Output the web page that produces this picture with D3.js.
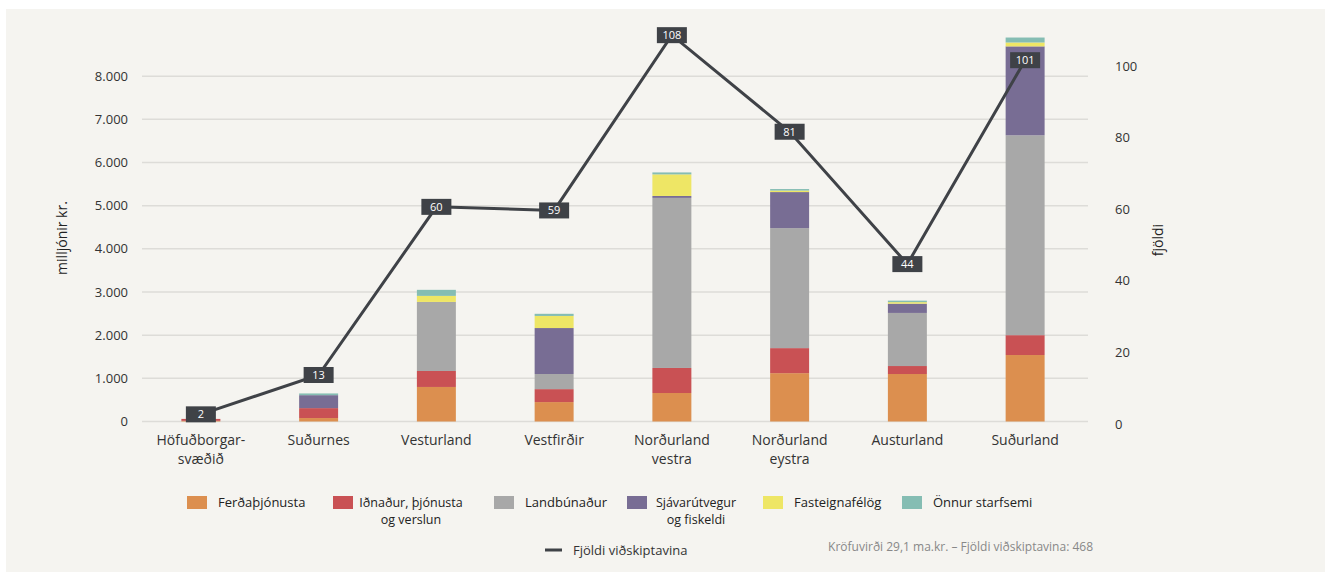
<!DOCTYPE html>
<html>
<head>
<meta charset="utf-8">
<script src="https://cdn.jsdelivr.net/npm/d3@7"></script>
<style>
  body { margin: 0; background: #ffffff; }
  text { font-family: "Open Sans", "DejaVu Sans", sans-serif; }
</style>
</head>
<body>
<div id="chart"></div>
<script>
// regions on x axis
const regions = ["Höfuðborgar-|svæðið", "Suðurnes", "Vesturland", "Vestfirðir", "Norðurland|vestra", "Norðurland|eystra", "Austurland", "Suðurland"];

// sector values in millions kr.
const ferdathjonusta = [15, 80, 800, 450, 660, 1120, 1100, 1540];
const idnadur = [45, 230, 370, 300, 580, 580, 185, 460];
const landbunadur = [0, 0, 1600, 350, 3940, 2780, 1230, 4630];
const sjavarutvegur = [0, 300, 0, 1065, 45, 835, 215, 2060];
const fasteignafelog = [0, 0, 140, 280, 500, 35, 35, 90];
const onnur = [0, 40, 140, 50, 45, 35, 35, 115];

// number of customers
const fjoldi = [2, 13, 60, 59, 108, 81, 44, 101];

const sectorNames = ["Ferðaþjónusta", "Iðnaður, þjónusta|og verslun", "Landbúnaður", "Sjávarútvegur|og fiskeldi", "Fasteignafélög", "Önnur starfsemi"];
const sectorColors = ["#dc8f4f", "#c95154", "#a8a8a8", "#786d94", "#eee665", "#85bdb3"];
const leftTicks = [0, 1000, 2000, 3000, 4000, 5000, 6000, 7000, 8000];
const rightTicks = [0, 20, 40, 60, 80, 100];

const W = 1325, H = 572;
const svg = d3.select("#chart").append("svg").attr("width", W).attr("height", H);

svg.append("rect").attr("x", 6).attr("y", 9).attr("width", W - 6).attr("height", H - 9).attr("fill", "#f5f4f0");

const x = d3.scaleBand().domain(regions).range([142, 1084]).paddingInner(0.669).paddingOuter(0.3345);
const y = d3.scaleLinear().domain([0, 9000]).range([421.5, 33]);
const y2 = d3.scaleLinear().domain([0, 110]).range([421.5, 28]);

// grid
svg.append("g").selectAll("line").data(leftTicks).enter().append("line")
  .attr("x1", 142).attr("x2", 1088)
  .attr("y1", d => y(d)).attr("y2", d => y(d))
  .attr("stroke", "#dddcd8").attr("stroke-width", 1.5);

// left axis labels
const fmt = d => d3.format(",")(d).replace(/,/g, ".");
svg.append("g").selectAll("text").data(leftTicks).enter().append("text")
  .attr("x", 128).attr("y", d => y(d) + 4.5)
  .attr("text-anchor", "end").attr("font-size", 13).attr("fill", "#333")
  .text(fmt);

svg.append("g").selectAll("text").data(rightTicks).enter().append("text")
  .attr("x", 1115).attr("y", d => y2(d) + 7)
  .attr("font-size", 13).attr("fill", "#333")
  .text(d => d);

svg.append("text").attr("transform", "translate(67,238) rotate(-90)")
  .attr("text-anchor", "middle").attr("font-size", 14).attr("fill", "#222").text("milljónir kr.");
svg.append("text").attr("transform", "translate(1163,240) rotate(-90)")
  .attr("text-anchor", "middle").attr("font-size", 14).attr("fill", "#222").text("fjöldi");

// stacked bars
const series = [ferdathjonusta, idnadur, landbunadur, sjavarutvegur, fasteignafelog, onnur];
const rows = regions.map((r, i) => {
  const o = { region: r };
  series.forEach((s, k) => { o["s" + k] = s[i]; });
  return o;
});
const stack = d3.stack().keys(series.map((s, k) => "s" + k))(rows);

svg.append("g").selectAll("g").data(stack).enter().append("g")
  .attr("fill", (d, k) => sectorColors[k])
  .selectAll("rect").data(d => d).enter().append("rect")
  .attr("x", d => x(d.data.region))
  .attr("width", x.bandwidth())
  .attr("y", d => y(d[1]))
  .attr("height", d => y(d[0]) - y(d[1]));

// x labels
const xl = svg.append("g").selectAll("text").data(regions).enter().append("text")
  .attr("x", d => x(d) + x.bandwidth() / 2).attr("y", 445)
  .attr("text-anchor", "middle").attr("font-size", 14).attr("fill", "#333");
xl.selectAll("tspan").data(d => d.split("|")).enter().append("tspan")
  .attr("x", function() { return this.parentNode.getAttribute("x"); })
  .attr("dy", (d, i) => i ? 19 : 0)
  .text(d => d);

// line
const cx = d => x(d) + x.bandwidth() / 2;
svg.append("path").datum(fjoldi)
  .attr("fill", "none").attr("stroke", "#3f4247").attr("stroke-width", 3)
  .attr("d", d3.line().x((d, i) => cx(regions[i])).y(d => y2(d)));

const lab = svg.append("g").selectAll("g").data(fjoldi).enter().append("g")
  .attr("transform", (d, i) => "translate(" + cx(regions[i]) + "," + y2(d) + ")");
lab.append("rect").attr("x", -15).attr("y", -8).attr("width", 30).attr("height", 16).attr("fill", "#3f4247");
lab.append("text").attr("y", 4).attr("text-anchor", "middle").attr("font-size", 11)
  .attr("fill", "#fff").text(d => d);

// legend
const legX = [187, 333, 494, 627, 763, 902];
const legMid = [0, 78, 0, 69, 0, 0];
const leg = svg.append("g").selectAll("g").data(sectorNames).enter().append("g")
  .attr("transform", (d, i) => "translate(" + legX[i] + ",496)");
leg.append("rect").attr("width", 20).attr("height", 13).attr("fill", (d, i) => sectorColors[i]);
const lt = leg.append("text").attr("font-size", 13).attr("fill", "#222");
lt.each(function(d, i) {
  const parts = d.split("|");
  const t = d3.select(this);
  if (parts.length === 1) {
    t.attr("x", 31).attr("y", 10.5).text(d);
  } else {
    t.attr("text-anchor", "middle").attr("font-size", 12.5);
    parts.forEach((p, j) => {
      t.append("tspan").attr("x", legMid[i]).attr("y", 10.5 + j * 17).text(p);
    });
  }
});

svg.append("line").attr("x1", 545).attr("x2", 562).attr("y1", 550).attr("y2", 550)
  .attr("stroke", "#3f4247").attr("stroke-width", 3);
svg.append("text").attr("x", 573).attr("y", 555).attr("font-size", 13).attr("fill", "#333")
  .text("Fjöldi viðskiptavina");
svg.append("text").attr("x", 1093).attr("y", 551).attr("text-anchor", "end")
  .attr("font-size", 12).attr("fill", "#888")
  .text("Kröfuvirði 29,1 ma.kr.  – Fjöldi viðskiptavina: 468");
</script>
</body>
</html>
